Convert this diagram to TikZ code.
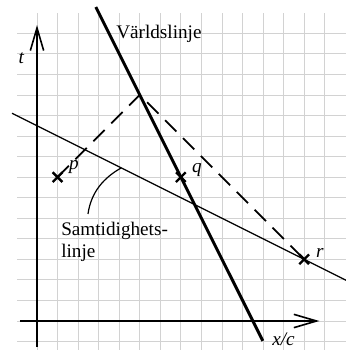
\documentclass[tikz,border=0pt]{standalone}
\usepackage{fontspec}
\setmainfont{Liberation Serif}
\usetikzlibrary{arrows.meta,shapes.misc}
\begin{document}
\begin{tikzpicture}[x=15.4125pt,y=15.4125pt,
  gridline/.style={draw=gray!35,line width=0.6pt},
  axisline/.style={line width=1.2pt,-{Straight Barb[length=17pt,width=10pt]}},
  worldline/.style={line width=2.2pt},
  simline/.style={line width=0.9pt},
  lightray/.style={line width=1.3pt,dash pattern=on 12pt off 7pt},
  event/.style={cross out,draw,line width=1.8pt,minimum size=5.5pt,inner sep=0pt},
  lbl/.style={font=\fontsize{14.4}{17}\selectfont,inner sep=0pt}]
\useasboundingbox (-1.8005,-1.4112) rectangle (15.0365,15.6204);
% grid
\foreach \k in {0,...,14} \draw[gridline] (\k,-1.42) -- (\k,14.98);
\foreach \k in {-1,...,14} \draw[gridline] (-0.973,\k) -- (15.04,\k);
% axes
\coordinate (tbot) at (0,-1.27);
\coordinate (ttop) at (0,14.4);
\coordinate (xleft) at (-0.83,0);
\coordinate (xright) at (13.74,0);
\draw[axisline] (tbot) -- (ttop);
\draw[axisline] (xleft) -- (xright);
\node[lbl,anchor=base] (tlabel) at (-0.754,12.55) {\textit{t}};
\node[lbl,anchor=base west] (xlabel) at (11.435,-1.17) {\textit{x/c}};
% simultaneity line
\coordinate (sl) at (-1.2165,10.108);
\coordinate (sr) at (15.0365,1.982);
\draw[simline] (sl) -- (sr);
% world line
\coordinate (wtop) at (2.86,15.28);
\coordinate (wbot) at (10.99,-0.97);
\draw[worldline] (wtop) -- (wbot);
\node[lbl,anchor=base west] (wlabel) at (3.844,13.747) {Världslinje};
% events
\node[event] (p) at (1,7) {};
\node[event] (q) at (7,7) {};
\node[event] (r) at (13,3) {};
\coordinate (apex) at (5,11);
\draw[lightray] (p.center) -- (apex) -- (r.center);
\node[lbl,anchor=base] (plabel) at (1.80,7.35) {\textit{p}};
\node[lbl,anchor=base] (qlabel) at (7.786,7.25) {\textit{q}};
\node[lbl,anchor=base] (rlabel) at (13.77,3.066) {\textit{r}};
% annotation
\node[lbl,anchor=north west,align=left] (slabel) at (1.168,4.83) {Samtidighets-\\linje};
\coordinate (a0) at (2.482,5.207);
\coordinate (a1) at (2.628,6.277);
\coordinate (a2) at (3.26,6.98);
\coordinate (a3) at (4.1,7.45);
\draw[simline] (a0) .. controls (a1) and (a2) .. (a3);
\end{tikzpicture}
\end{document}
